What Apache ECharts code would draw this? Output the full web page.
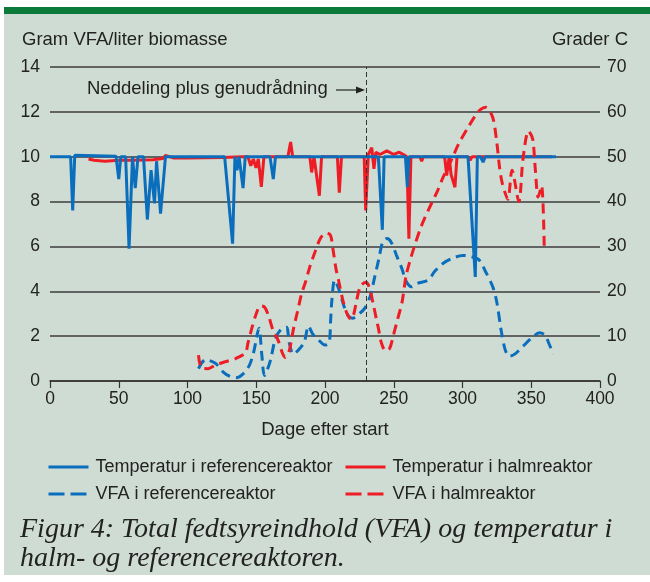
<!DOCTYPE html>
<html>
<head>
<meta charset="utf-8">
<script src="https://cdn.jsdelivr.net/npm/echarts@6/dist/echarts.min.js"></script>
<style>
  html, body { margin: 0; padding: 0; background: #fff; }
  #chart { width: 650px; height: 582px; }
</style>
</head>
<body>
<div id="chart"></div>
<script>
// [dag, grader C]
const tempRef = [
  [0,50],[15,50],[16.5,38],[18,50.3],[48,50.1],[50,45],[51.5,50],[55,50],[57.5,29.5],[60,50],
  [62,43],[64,50],[68,50],[70.8,36],[73.5,47],[76,39.6],[77.5,49],[80.4,37.3],[84,50],[127,50],
  [132.8,30.6],[134.5,50],[136,47],[137.5,50],[140.4,43],[142,50],[160,50],[162.4,45],[164,50],
  [238.8,50],[241.7,33.7],[243,50],[258.5,50],[259.9,43.2],[261,50],[304,50],[309.3,23.2],
  [310.8,50],[313,50],[315,48.8],[316.5,50],[368,50]
];
const tempHalm = [
  [28,49.5],[32,49.2],[40,49],[50,49.2],[60,49.2],[75,49.3],[82,49.6],[84,50.3],[90,49.7],
  [100,49.7],[125,49.8],[140,50],[144,50],[146,48],[147.9,49.5],[149.8,47.5],[151.5,49.5],
  [153.7,43.3],[155.6,50],[173,50],[175,53.3],[176.5,50],[189,50],[190.3,46.5],[192,50],
  [195.9,41.3],[197.5,50],[209,50],[210.4,42],[212,50],[228.5,50],[229.6,38],[231.5,50.5],
  [234,52],[235.6,47.3],[237,51],[240,50.5],[245,51.3],[250,50.5],[254,51],[258,50.3],
  [259.5,50],[261,31.7],[262.5,50],[269,50],[270.3,49],[271.5,50],[287,50],[288.5,45.8],
  [290.3,50],[291.7,46],[294.5,43.2],[296,50],[304,50],[305.5,49.2],[307,50],[365,50]
];
// [dag, g VFA/l]
const vfaRef = [
  [108,0.55],[113,0.95],[120,0.8],[126,0.4],[131,0.2],[136,0.15],[141,0.35],[145,0.7],
  [148,1.25],[152,2.35],[154,1.2],[156,0.25],[160,0.85],[164,1.9],[168,2.3],[172,2.4],
  [174,1.7],[177,1.2],[181,1.4],[185,1.75],[188,2.45],[191,2.1],[195,1.85],[200,1.6],
  [203,1.7],[204,2.6],[205,3.6],[207,4.5],[210,4.1],[214,3.3],[217,2.9],[220,2.8],
  [224,2.95],[229,3.25],[233,3.8],[236,4.6],[239,5.4],[242,6.2],[245,6.35],[248,6.2],
  [252,5.6],[256,5.0],[259,4.45],[263,4.2],[267,4.35],[275,4.5],[280,4.9],[286,5.25],
  [292,5.45],[300,5.6],[306,5.55],[312,5.4],[317,4.85],[322,4.2],[325,3.5],[328,2.3],
  [331,1.4],[334,1.1],[338,1.2],[344,1.55],[350,1.9],[356,2.15],[360,2.05],[363,1.65],
  [366,1.2]
];
const vfaHalm = [
  [108,1.15],[110,0.6],[115,0.55],[120,0.7],[127,0.85],[135,1.0],[142,1.25],[144,1.7],
  [147,2.4],[150,3.0],[153,3.35],[156,3.3],[159,2.9],[162,2.3],[166,1.8],[169,1.25],
  [171,1.05],[174,1.35],[177,2.3],[180,3.1],[183,3.9],[186,4.45],[189,5.1],[193,5.8],
  [197,6.4],[201,6.6],[204,6.5],[206,5.8],[208,5.0],[210,4.45],[213,3.6],[216,3.0],
  [219,2.75],[221,3.0],[223,3.6],[226,4.25],[230,4.4],[233,4.0],[235,3.45],[237.6,2.7],
  [239,2.3],[241,1.7],[244,1.35],[247,1.45],[250,2.1],[253,2.8],[256,3.5],[259,4.7],
  [262,5.4],[265,6.0],[270,6.9],[275,7.6],[282,8.5],[286,9.1],[293,10.0],[297,10.55],
  [304,11.3],[309,11.8],[313,12.1],[317,12.2],[322,11.75],[325,10.6],[327,9.5],[329,8.8],
  [333,8.1],[336,9.4],[341,8.0],[344,9.9],[348,11.15],[351,10.8],[353,9.4],[355,8.2],
  [357.5,8.7],[359.5,5.8]
];
const nedDag = 230;

const BLUE = '#0A6EBD';
const RED = '#EE1D25';
const FONT = 'Liberation Sans';
const TXT = '#222';

let dom = echarts.init(document.getElementById('chart'), null, { renderer: 'canvas' });

let legendBase = {
  orient: 'vertical', itemGap: 9, itemWidth: 40, itemHeight: 14,
  itemStyle: { opacity: 0 },
  textStyle: { fontSize: 18, color: TXT, fontFamily: FONT, padding: [0, 0, 0, 2] }
};
const solidIcon = { width: 3 };
const dashIcon = { width: 3, type: [16, 6] };

let option = {
  animation: false,
  backgroundColor: '#fff',
  textStyle: { fontFamily: FONT },
  graphic: [
    { type: 'rect', z: -10, shape: { x: 4, y: 14, width: 646, height: 561 }, style: { fill: '#CFDCD3' } },
    { type: 'rect', z: -10, shape: { x: 4, y: 7, width: 646, height: 7 }, style: { fill: '#0B7A3B' } },
    { type: 'text', left: 22, top: 30, style: { text: 'Gram VFA/liter biomasse', font: '18.5px ' + FONT, fill: TXT } },
    { type: 'text', right: 22, top: 30, style: { text: 'Grader C', font: '18.5px ' + FONT, fill: TXT } },
    { type: 'text', left: 'center', top: 420, style: { text: 'Dage efter start', font: '18.5px ' + FONT, fill: TXT } },
    { type: 'text', left: 87, top: 79, style: { text: 'Neddeling plus genudrådning', font: '18.5px ' + FONT, fill: TXT } },
    { type: 'line', shape: { x1: 336, y1: 90, x2: 358, y2: 90 }, style: { stroke: TXT, lineWidth: 1.2 } },
    { type: 'polygon', shape: { points: [[365, 90], [356, 86.5], [356, 93.5]] }, style: { fill: TXT } },
    { type: 'text', left: 20, top: 516, style: { text: 'Figur 4: Total fedtsyreindhold (VFA) og temperatur i', font: 'italic 28px Liberation Serif', fill: TXT } },
    { type: 'text', left: 20, top: 545, style: { text: 'halm- og referencereaktoren.', font: 'italic 28px Liberation Serif', fill: TXT } }
  ],
  legend: [
    Object.assign({ left: 42, top: 453, data: [
      { name: 'Temperatur i referencereaktor', lineStyle: solidIcon },
      { name: 'VFA i referencereaktor', lineStyle: dashIcon }
    ] }, legendBase),
    Object.assign({ left: 339, top: 453, data: [
      { name: 'Temperatur i halmreaktor', lineStyle: solidIcon },
      { name: 'VFA i halmreaktor', lineStyle: dashIcon }
    ] }, legendBase)
  ],
  grid: { left: 50, right: 50, top: 67, bottom: 201, containLabel: false, outerBoundsMode: 'none' },
  xAxis: {
    type: 'value', min: 0, max: 400, interval: 50,
    axisLine: { show: true, lineStyle: { color: '#333', width: 1.5 } },
    axisTick: { show: true, length: 7, lineStyle: { color: '#333', width: 1.2 } },
    axisLabel: { fontSize: 17.5, color: TXT, margin: 9 },
    splitLine: { show: false }
  },
  yAxis: [
    {
      type: 'value', min: 0, max: 14, interval: 2,
      axisLine: { show: false }, axisTick: { show: false },
      axisLabel: { fontSize: 17.5, color: TXT, margin: 10 },
      splitLine: { show: true, lineStyle: { color: '#3c3c3c', width: 1.5 } }
    },
    {
      type: 'value', min: 0, max: 70, interval: 10, position: 'right',
      axisLine: { show: false }, axisTick: { show: false },
      axisLabel: { fontSize: 17.5, color: TXT, margin: 7 },
      splitLine: { show: false }
    }
  ],
  series: [
    {
      name: 'Temperatur i halmreaktor', type: 'line', yAxisIndex: 1, data: tempHalm,
      symbol: 'none', lineStyle: { color: RED, width: 3 }, itemStyle: { color: RED },
      markLine: {
        silent: true, symbol: 'none', label: { show: false },
        lineStyle: { color: '#333', width: 1, type: [5, 3] },
        data: [{ xAxis: nedDag }]
      }
    },
    {
      name: 'Temperatur i referencereaktor', type: 'line', yAxisIndex: 1, data: tempRef,
      symbol: 'none', lineStyle: { color: BLUE, width: 3 }, itemStyle: { color: BLUE }
    },
    {
      name: 'VFA i referencereaktor', type: 'line', yAxisIndex: 0, data: vfaRef, smooth: 0.3,
      symbol: 'none', lineStyle: { color: BLUE, width: 3, type: [10, 6] }, itemStyle: { color: BLUE }
    },
    {
      name: 'VFA i halmreaktor', type: 'line', yAxisIndex: 0, data: vfaHalm, smooth: 0.3,
      symbol: 'none', lineStyle: { color: RED, width: 3, type: [10, 6] }, itemStyle: { color: RED }
    }
  ]
};

dom.setOption(option);
</script>
</body>
</html>
